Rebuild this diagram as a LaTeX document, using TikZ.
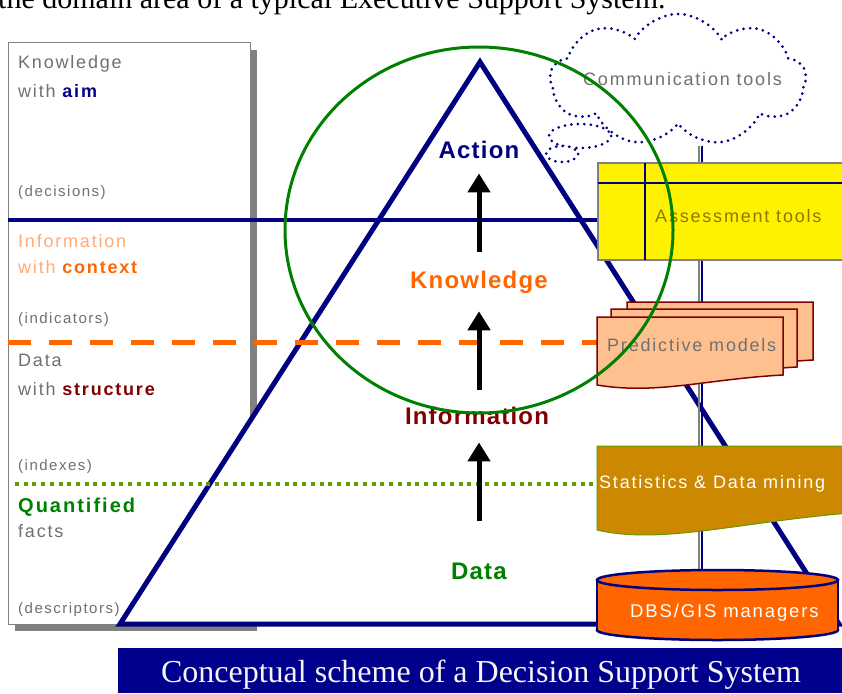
\documentclass[tikz,border=0pt]{standalone}
\usepackage{fontspec}
\setmainfont{Liberation Sans}
\newfontfamily\sidefont{Liberation Sans}[LetterSpace=10]
\newfontfamily\pyrfont{Liberation Sans}[LetterSpace=5]
\newfontfamily\capfont{Liberation Serif}
\usetikzlibrary{arrows.meta,shapes.symbols}

\definecolor{dssnavy}{RGB}{0,0,128}
\definecolor{dssbanner}{RGB}{0,0,140}
\definecolor{dssorange}{RGB}{255,102,0}
\definecolor{dsslight}{RGB}{255,170,120}
\definecolor{dssred}{RGB}{128,0,0}
\definecolor{dssgreen}{RGB}{0,128,0}
\definecolor{dssolive}{RGB}{102,153,0}
\definecolor{dssgray}{RGB}{112,112,112}
\definecolor{dssshadow}{RGB}{128,128,128}
\definecolor{dsspeach}{RGB}{255,192,144}
\definecolor{dssgold}{RGB}{204,136,0}
\definecolor{dssyelltext}{RGB}{140,120,0}

\begin{document}
\begin{tikzpicture}[x=1pt,y=-1pt,
  side/.style={anchor=base west,inner sep=0pt,text=dssgray,font=\sidefont\fontsize{18}{20}\selectfont},
  paren/.style={side,font=\sidefont\fontsize{15}{17}\selectfont},
  level/.style={anchor=base,inner sep=0pt,font=\pyrfont\bfseries\fontsize{24}{26}\selectfont},
  tool/.style={anchor=base west,inner sep=0pt,font=\sidefont\fontsize{18}{20}\selectfont},
  uparrow/.style={line width=5pt,-{Triangle[width=22pt,length=19pt]}},
  cloudline/.style={draw=dssnavy,line width=3pt,dash pattern=on 0pt off 6.5pt,line cap=round},
  doc/.style={fill=dsspeach,draw=dssred,line width=1.5pt}]
\useasboundingbox (0,0) rectangle (842,693);
\clip (0,0) rectangle (842,693);

% text cut off by the top edge
\node[anchor=base west,inner sep=0pt,font=\capfont\fontsize{30}{32}\selectfont] (header) at (-2,9) {the domain area of a typical Executive Support System.};

% left box with its shadow
\fill[dssshadow] (250,50) rectangle (257,631);
\fill[dssshadow] (15,624) rectangle (257,631);
\filldraw[fill=white,draw=dssshadow,line width=1pt] (8,43) rectangle (250,624);

% pyramid
\filldraw[fill=white,draw=dssnavy,line width=5pt] (480,62) -- (839,624) -- (120,624) -- cycle;

% level lines
\draw[dssnavy,line width=3.5pt] (8,220) -- (598,220);
\draw[dssorange,line width=5pt,dash pattern=on 23pt off 18pt] (8,342) -- (597,342);
\draw[dssolive,line width=4pt,dash pattern=on 4pt off 4.7pt] (15,484) -- (597,484);

% left labels
\node[side] (knowl) at (18,68) {Knowledge};
\node[side] (aim) at (18,97) {with {\bfseries\color{dssnavy}aim}};
\node[paren] (decis) at (18,196) {(decisions)};
\node[side,text=dsslight] (inform) at (18,247) {Information};
\node[side,text=dsslight] (context) at (18,273) {with {\bfseries\color{dssorange}context}};
\node[paren] (indic) at (18,323) {(indicators)};
\node[side] (data) at (18,366) {Data};
\node[side] (struct) at (18,395) {with {\bfseries\color{dssred}structure}};
\node[paren] (index) at (18,470) {(indexes)};
\node[side,text=dssgreen,font=\sidefont\bfseries\fontsize{20}{22}\selectfont] (quant) at (18,512) {Quantified};
\node[side] (facts) at (18,537) {facts};
\node[paren] (descr) at (18,613) {(descriptors)};

% pyramid levels
\node[level,text=dssnavy] (action) at (479,158) {Action};
\node[level,text=dssorange] (knowledge) at (479,288) {Knowledge};
\node[level,text=dssred] (information) at (477,424) {Information};
\node[level,text=dssgreen] (datalvl) at (479,579) {Data};
\draw[uparrow,shorten <=18.5pt,shorten >=15pt] (knowledge.north) -- (action.south);
\draw[uparrow,shorten <=16.5pt,shorten >=18pt] (information.north -| knowledge) -- (knowledge.south);
\draw[uparrow,shorten <=41.5pt,shorten >=18pt] (datalvl.north) -- (information.south -| datalvl);

% tools on the right
\coordinate (cloudfoot) at (702,146);
\coordinate (dbstop) at (702,572);
\draw[cloudline,fill=white] (580,136) ellipse [x radius=31,y radius=12];
\draw[cloudline,fill=white] (562,154) ellipse [x radius=16,y radius=8];
\node[cloud,cloud puffs=9,cloud puff arc=120,aspect=1.9,minimum width=256pt,minimum height=132pt,fill=white,cloudline] (cloud) at (678,80) {};
\draw[dssshadow,line width=2pt] ([xshift=-3pt]cloudfoot) -- ([xshift=-3pt]dbstop);
\draw[dssnavy,line width=2.5pt] (cloudfoot) -- (dbstop);
\node[tool,text=dssgray] (comm) at (583,85) {Communication tools};

\filldraw[fill=yellow,draw=dssshadow,line width=2pt] (598,163) rectangle (850,260);
\draw[dssnavy,line width=1.5pt] (598,183) -- (850,183) (645,163) -- (645,260);
\node[tool,text=dssyelltext] (assess) at (655,222) {Assessment tools};

\foreach \dx/\dy in {30/-15,14/-8,0/0}
  \filldraw[doc,shift={(\dx,\dy)}] (597,317) -- (783,317) -- (783,375) .. controls (707,379) and (657,395) .. (597,385) -- cycle;
\node[tool,text=dssgray] (predict) at (607,351) {Predictive models};

\filldraw[fill=dssgold,draw=dssolive,line width=1pt] (597,446) -- (850,446) -- (850,513) .. controls (740,522) and (660,545) .. (597,530) -- cycle;
\node[tool,text=white] (stats) at (599,488) {Statistics \& Data mining};

\filldraw[fill=dssorange,draw=dssnavy,line width=2.5pt] (717.5,630) ellipse [x radius=120.5,y radius=10];
\fill[dssorange] (597,580) rectangle (838,630);
\draw[dssnavy,line width=2.5pt] (597,580) -- (597,630) (838,580) -- (838,630);
\filldraw[fill=dssorange,draw=dssnavy,line width=2.5pt] (717.5,580) ellipse [x radius=120.5,y radius=10];
\node[tool,text=white,font=\sidefont\fontsize{18.5}{20}\selectfont] (dbs) at (630,617) {DBS/GIS managers};

% green circle round the top of the pyramid
\draw[dssgreen,line width=3pt] (479,230) ellipse [x radius=194,y radius=183];

% caption banner
\fill[dssbanner] (118,648) rectangle (842,693);
\node[anchor=base,inner sep=0pt,text=white!92!gray,font=\capfont\fontsize{32}{34}\selectfont] (caption) at (481,682) {Conceptual scheme of a Decision Support System};
\end{tikzpicture}
\end{document}
